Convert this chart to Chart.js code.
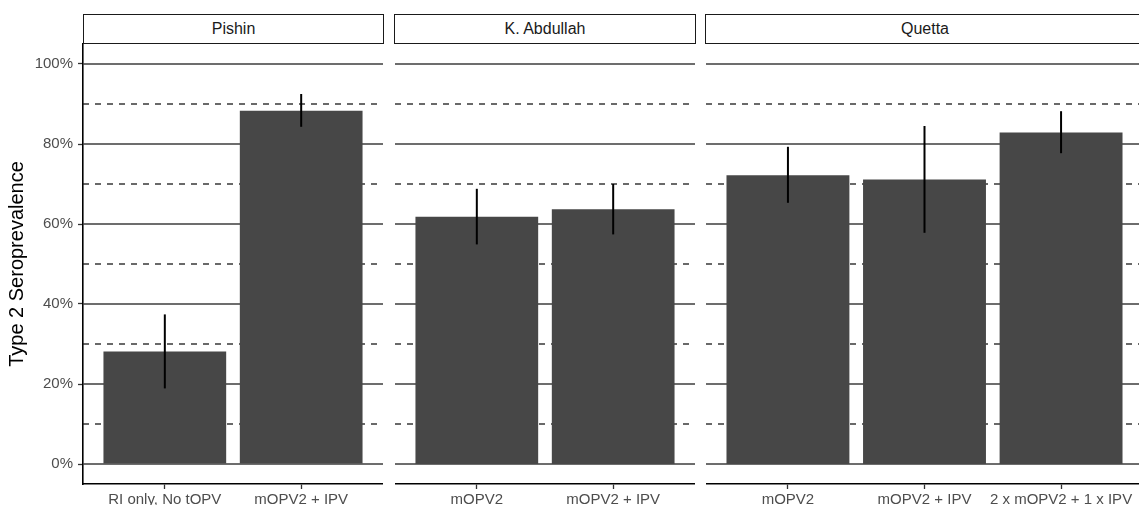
<!DOCTYPE html>
<html lang="en">
<head>
    <meta charset="UTF-8">
    <title>Type 2 Seroprevalence by district</title>
    <style>
        html, body { margin: 0; padding: 0; background: #fff; overflow: hidden; }
        #wrap { position: relative; width: 1139px; height: 505px; overflow: hidden; font-family: "Liberation Sans", Arial, sans-serif; }
        .panel { position: absolute; top: 0; }
        .strip { position: absolute; top: 14px; height: 30px; box-sizing: border-box; border: 1.5px solid #1a1a1a; background: #fff;
                 font-size: 16px; color: #1a1a1a; text-align: center; line-height: 28px; }
    </style>
</head>
<body>
<div id="wrap">
    <canvas id="c0" class="panel" width="383" height="505" style="left:0px"></canvas>
    <canvas id="c1" class="panel" width="300" height="505" style="left:395px"></canvas>
    <canvas id="c2" class="panel" width="437" height="505" style="left:706px"></canvas>
    <div class="strip" id="s0" style="left:83px;width:301px"></div>
    <div class="strip" id="s1" style="left:394px;width:302px"></div>
    <div class="strip" id="s2" style="left:705px;width:440px"></div>
</div>

<script src="https://cdn.jsdelivr.net/npm/chart.js"></script>
<script>
    // facet titles
    const panelTitles = ['Pishin', 'K. Abdullah', 'Quetta'];

    // Pishin
    const pishinLabels = ['RI only, No tOPV', 'mOPV2 + IPV'];
    const pishinValues = [28.1, 88.3];
    const pishinLower = [18.9, 84.3];
    const pishinUpper = [37.4, 92.5];

    // K. Abdullah
    const abdullahLabels = ['mOPV2', 'mOPV2 + IPV'];
    const abdullahValues = [61.8, 63.7];
    const abdullahLower = [54.9, 57.4];
    const abdullahUpper = [68.8, 70.0];

    // Quetta
    const quettaLabels = ['mOPV2', 'mOPV2 + IPV', '2 x mOPV2 + 1 x IPV'];
    const quettaValues = [72.2, 71.1, 82.9];
    const quettaLower = [65.3, 57.8, 77.7];
    const quettaUpper = [79.3, 84.5, 88.2];

    // reference lines + y ticks
    const solidRefLines = [0, 20, 40, 60, 80, 100];
    const dashedRefLines = [10, 30, 50, 70, 90];
    const yTicks = [0, 20, 40, 60, 80, 100];

    const FONT = '"Liberation Sans", Arial, sans-serif';

    const refLinesPlugin = {
        id: 'refLines',
        beforeDatasetsDraw(chart) {
            const { ctx, chartArea: a, scales: { y } } = chart;
            ctx.save();
            const draw = (vals, color, width, dash) => {
                ctx.strokeStyle = color;
                ctx.lineWidth = width;
                ctx.setLineDash(dash);
                vals.forEach(v => {
                    const py = y.getPixelForValue(v);
                    ctx.beginPath();
                    ctx.moveTo(a.left, py);
                    ctx.lineTo(a.right, py);
                    ctx.stroke();
                });
            };
            draw(solidRefLines, '#3d3d3d', 1.5, []);
            draw(dashedRefLines, '#1a1a1a', 1.3, [6, 6]);
            ctx.restore();
        }
    };

    const errorBarPlugin = {
        id: 'errorBars',
        afterDatasetsDraw(chart, args, opts) {
            const { ctx, scales: { y } } = chart;
            const meta = chart.getDatasetMeta(0);
            ctx.save();
            ctx.strokeStyle = '#000';
            ctx.lineWidth = 2;
            meta.data.forEach((bar, i) => {
                ctx.beginPath();
                ctx.moveTo(bar.x, y.getPixelForValue(opts.lower[i]));
                ctx.lineTo(bar.x, y.getPixelForValue(opts.upper[i]));
                ctx.stroke();
            });
            ctx.restore();
        }
    };

    function makePanel(id, labels, values, lower, upper, showY) {
        const n = labels.length;
        new Chart(document.getElementById(id), {
            type: 'bar',
            data: {
                datasets: [{
                    data: values.map((v, i) => ({ x: i + 1, y: v })),
                    backgroundColor: '#474747',
                    borderWidth: 0,
                    barPercentage: 0.9,
                    categoryPercentage: 1
                }]
            },
            options: {
                responsive: false,
                animation: false,
                layout: { padding: { top: 44, left: 0, right: 0, bottom: 0 } },
                plugins: {
                    legend: { display: false },
                    tooltip: { enabled: false },
                    errorBars: { lower, upper }
                },
                scales: {
                    x: {
                        type: 'linear',
                        offset: false,
                        min: 0.4,
                        max: n + 0.6,
                        afterBuildTicks: s => { s.ticks = labels.map((_, i) => ({ value: i + 1 })); },
                        afterFit: s => { s.height = 21; },
                        grid: { offset: false, drawOnChartArea: false, drawTicks: true, tickLength: 5, tickColor: '#333', tickWidth: 1.3 },
                        border: { display: true, color: '#000', width: 1.6 },
                        ticks: {
                            autoSkip: false, maxRotation: 0, padding: 2,
                            color: '#4d4d4d', font: { family: FONT, size: 15 },
                            callback: v => labels[v - 1]
                        }
                    },
                    y: {
                        display: showY,
                        min: -5,
                        max: 105,
                        afterBuildTicks: s => { s.ticks = yTicks.map(v => ({ value: v })); },
                        afterFit: s => { s.width = showY ? 83 : 0; },
                        grid: { drawOnChartArea: false, drawTicks: true, tickLength: 5, tickColor: '#333', tickWidth: 1.3 },
                        border: { display: true, color: '#000', width: 1.6 },
                        ticks: {
                            padding: 5, color: '#4d4d4d', font: { family: FONT, size: 15 },
                            callback: v => v + '%'
                        },
                        title: {
                            display: true, text: 'Type 2 Seroprevalence', color: '#000',
                            font: { family: FONT, size: 20 }, padding: { top: 5, bottom: 0 }
                        }
                    }
                }
            },
            plugins: [refLinesPlugin, errorBarPlugin]
        });
    }

    makePanel('c0', pishinLabels, pishinValues, pishinLower, pishinUpper, true);
    makePanel('c1', abdullahLabels, abdullahValues, abdullahLower, abdullahUpper, false);
    makePanel('c2', quettaLabels, quettaValues, quettaLower, quettaUpper, false);

    panelTitles.forEach((t, i) => { document.getElementById('s' + i).textContent = t; });
</script>
</body>
</html>
